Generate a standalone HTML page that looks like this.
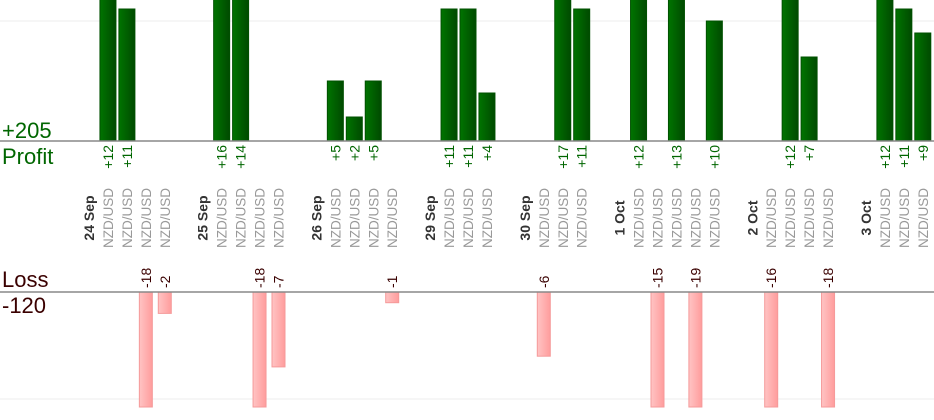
<!DOCTYPE html>
<html><head><meta charset="utf-8"><style>
html,body{margin:0;padding:0;background:#fff;overflow:hidden;width:934px;height:420px}
svg{display:block;font-family:"Liberation Sans",sans-serif}
</style></head><body>
<svg id="chart" width="934" height="420" viewBox="0 0 934 420" overflow="hidden">
<defs>
<linearGradient id="gp" x1="0" x2="1"><stop offset="0" stop-color="#007400"/><stop offset="1" stop-color="#004a00"/></linearGradient>
<linearGradient id="gl" x1="0" x2="1"><stop offset="0" stop-color="#ffc4c4"/><stop offset="1" stop-color="#ff9c9c"/></linearGradient>
<clipPath id="cp"><rect x="0" y="0" width="934" height="141"/></clipPath>
<clipPath id="cl"><rect x="0" y="292" width="934" height="115"/></clipPath>
</defs>
<line x1="0" y1="21" x2="934" y2="21" stroke="#eee"/>
<line x1="0" y1="399" x2="934" y2="399" stroke="#eee"/>
<g id="marks"></g>
<line x1="0" y1="141" x2="934" y2="141" stroke="#888" stroke-width="1.5"/>
<line x1="0" y1="292" x2="934" y2="292" stroke="#888" stroke-width="1.5"/>
<text x="2" y="138" font-size="22" fill="#006600">+205</text>
<text x="2" y="164" font-size="22" fill="#006600">Profit</text>
<text x="2" y="287" font-size="22" fill="#3a0000">Loss</text>
<text x="2" y="313" font-size="22" fill="#3a0000">-120</text>
</svg>
<script>
const dates = ["24 Sep","25 Sep","26 Sep","29 Sep","30 Sep","1 Oct","2 Oct","3 Oct"];
const tradeCounts = [4,4,4,3,3,5,4,3];
const pairs = ["NZD/USD"];
const results = [12,11,-18,-2, 16,14,-18,-7, 5,2,5,-1, 11,11,4, -6,17,11, 12,-15,13,-19,10, -16,12,7,-18, 12,11,9];

const NS="http://www.w3.org/2000/svg";
const g=document.getElementById('marks');
const colX=i=>89+18.95*i;
const yP=v=>141-12*v;
const yL=v=>292+10.7*v;
function mk(t,a,txt){const e=document.createElementNS(NS,t);for(const k in a)e.setAttribute(k,a[k]);if(txt!==undefined)e.textContent=txt;return e;}
let col=0,ti=0;
dates.forEach((d,di)=>{
  const dx=colX(col);
  const dl=mk('text',{x:dx+5,y:218,'font-size':14,'font-weight':'bold',fill:'#333','text-anchor':'middle',transform:`rotate(-90 ${dx+5} 218)`},d);
  
  
  g.appendChild(dl);
  for(let k=0;k<tradeCounts[di];k++){
    col++;
    const x=colX(col);
    const v=results[ti++];
    const pl=mk('text',{x:x+5,y:218,'font-size':13.5,fill:'#999','text-anchor':'middle',transform:`rotate(-90 ${x+5} 218)`},pairs[0]);
    
    
    g.appendChild(pl);
    if(v>0){
      const r=mk('rect',{x:x-8,y:yP(v),width:16,height:141-yP(v),fill:'url(#gp)',stroke:'#005000','stroke-width':1,'clip-path':'url(#cp)'});
      
      
      g.appendChild(r);
      const t=mk('text',{x:x+5,y:145,'font-size':14,fill:'#006600','text-anchor':'end',transform:`rotate(-90 ${x+5} 145)`},'+'+v);
      
      
      g.appendChild(t);
    } else {
      const r=mk('rect',{x:x-6.5,y:292,width:13,height:Math.min(yL(-v),407)-292,fill:'url(#gl)',stroke:'#f59a9a','stroke-width':1});
      
      
      g.appendChild(r);
      const t=mk('text',{x:x+5,y:288,'font-size':14,fill:'#3a0000','text-anchor':'start',transform:`rotate(-90 ${x+5} 288)`},String(v));
      
      
      g.appendChild(t);
    }
  }
  col+=2;
});
</script>
</body></html>
